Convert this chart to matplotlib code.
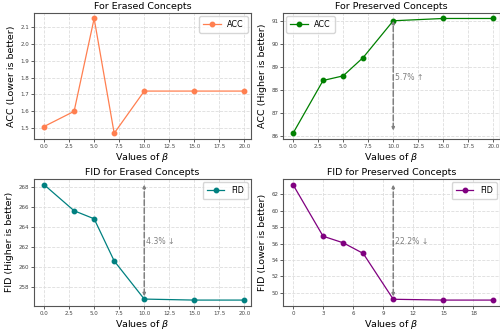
import numpy as np
import matplotlib
matplotlib.use('Agg')
from matplotlib import pyplot as plt
from matplotlib.ticker import MaxNLocator

beta = [0, 3, 5, 7, 10, 15, 20]
acc_erased = [1.51, 1.60, 2.15, 1.47, 1.72, 1.72, 1.72]
acc_preserved = [86.1, 88.4, 88.6, 89.4, 91.0, 91.1, 91.1]
fid_erased = [268.2, 265.6, 264.8, 260.6, 256.8, 256.7, 256.7]
fid_preserved = [63.2, 56.9, 56.1, 54.8, 49.2, 49.1, 49.1]

plt.rcParams.update({'font.family': 'DejaVu Sans', 'axes.edgecolor': '#555555',
                     'axes.linewidth': 0.8, 'xtick.color': '#444444', 'ytick.color': '#444444'})

fig = plt.figure(figsize=(5, 3.35), dpi=100)
# axes boxes in figure fractions (left, bottom, width, height)
boxes = [(0.068, 0.585, 0.434, 0.377), (0.566, 0.585, 0.434, 0.377),
         (0.068, 0.087, 0.434, 0.379), (0.566, 0.087, 0.434, 0.379)]
axes = [fig.add_axes(b) for b in boxes]

panels = [
    (axes[0], acc_erased, 'coral', 'ACC', 'For Erased Concepts', 'ACC (Lower is better)', 'upper right', None),
    (axes[1], acc_preserved, 'green', 'ACC', 'For Preserved Concepts', 'ACC (Higher is better)', 'upper left', '5.7% \u2191'),
    (axes[2], fid_erased, 'teal', 'FID', 'FID for Erased Concepts', 'FID (Higher is better)', 'upper right', '4.3% \u2193'),
    (axes[3], fid_preserved, 'purple', 'FID', 'FID for Preserved Concepts', 'FID (Lower is better)', 'upper right', '22.2% \u2193'),
]

for ax, vals, color, lab, title, ylab, loc, note in panels:
    ax.plot(beta, vals, marker='o', color=color, label=lab, lw=0.9, ms=3.2)
    ax.set_xlim(-1, 20.65)
    ax.set_title(title, fontsize=6.8, pad=2.5)
    ax.set_xlabel(r'Values of $\beta$', fontsize=6.8, labelpad=1.5)
    ax.set_ylabel(ylab, fontsize=6.8, labelpad=3)
    ax.tick_params(labelsize=4, length=2, pad=1.5, width=0.6)
    ax.grid(True, linestyle='--', color='#dddddd', linewidth=0.6)
    ax.legend(loc=loc, fontsize=5.8, handlelength=2.2, borderpad=0.5, borderaxespad=0.4)
    if note is not None:
        lo, hi = vals[0], vals[4]
        if lo > hi:
            lo, hi = hi, lo
        ax.annotate('', xy=(10, hi), xytext=(10, lo),
                    arrowprops=dict(arrowstyle='<|-|>', color='gray', linestyle='--', lw=1.1,
                                    mutation_scale=4, shrinkA=2, shrinkB=0))
        ax.text(10.2, (lo + hi) / 2, note, fontsize=5.6, color='gray', va='center')

axes[3].xaxis.set_major_locator(MaxNLocator(integer=True))
axes[2].yaxis.set_major_locator(MaxNLocator(7))

plt.savefig('out.png', dpi=100)
